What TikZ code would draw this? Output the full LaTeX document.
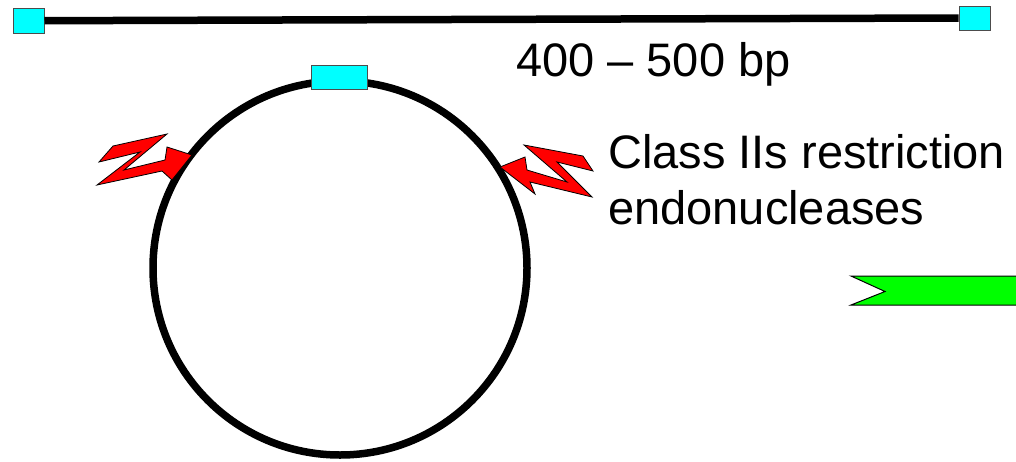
\documentclass[tikz,border=0pt]{standalone}
\usepackage{fontspec}
\setmainfont{Liberation Sans}
\definecolor{aqua}{RGB}{0,255,255}
\definecolor{lime}{RGB}{0,255,0}
\definecolor{boltred}{RGB}{255,0,0}
\begin{document}
\begin{tikzpicture}[x=1pt,y=-1pt,
  dna/.style={line width=7.5pt, draw=black},
  tag/.style={draw=black!70, line width=1pt, fill=aqua, inner sep=0pt},
  bolt/.style={draw=black, line width=0.8pt, fill=boltred, line join=miter},
  lbl/.style={font=\fontsize{47}{56}\selectfont, inner sep=0pt, anchor=base west}]
\useasboundingbox (0,0) rectangle (1016,461);
\clip (0,0) rectangle (1016,461);
% linear fragment
\node[tag, minimum width=31pt, minimum height=25pt] (sqL) at (28.5,20.7) {};
\node[tag, minimum width=31pt, minimum height=24pt] (sqR) at (974.5,18) {};
\draw[dna] (sqL.east) -- (sqR.west);
% plasmid
\node[circle, dna, minimum size=374pt, inner sep=0pt] (ring) at (340,268) {};
\node[tag, minimum width=56pt, minimum height=24pt] (site) at (339,77) {};
% left bolt
\draw[bolt] (99,162) -- (113,146) -- (167,134) -- (124,170) -- (165,160)
  -- (167,147) -- (192,155) -- (172,180) -- (162,171) -- (97,185)
  -- (140,152) -- cycle;
% right bolt
\draw[bolt] (524,145) -- (583,156) -- (593,171) -- (557,162) -- (592,197)
  -- (530,182) -- (535,194) -- (500,167) -- (525,157) -- (527,170)
  -- (567,182) -- cycle;
% green arrow
\draw[draw=black, line width=1pt, fill=lime] (851,276) -- (1030,276)
  -- (1030,305) -- (851,305) -- (885,291.5) -- cycle;
% labels
\node[lbl] (len) at (516,76.5) {400 – 500 bp};
\node[lbl] (cls1) at (608,168.5) {Class IIs restriction};
\node[lbl] (cls2) at (608,224) {endonucleases};
\end{tikzpicture}
\end{document}
